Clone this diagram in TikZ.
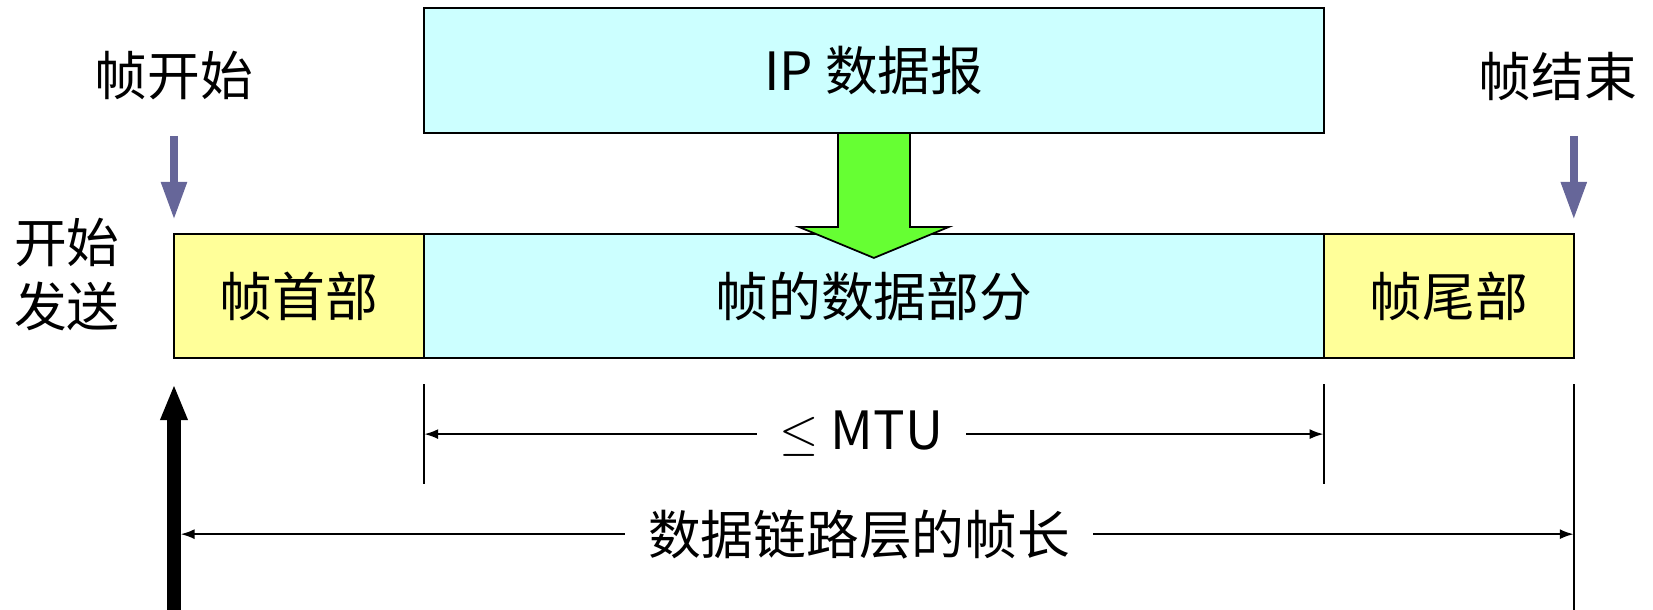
\documentclass[tikz,border=0pt]{standalone}
\usepackage{fontspec}
\setmainfont{Noto Sans CJK SC}
\usepackage{tikz}
\usetikzlibrary{positioning,calc,arrows.meta}
\definecolor{hdryellow}{HTML}{FFFF99}
\definecolor{datacyan}{HTML}{CCFFFF}
\definecolor{pushgreen}{HTML}{66FF33}
\definecolor{flagblue}{HTML}{666699}
\tikzset{
    field/.style={draw, line width=0.6pt, minimum height=1.24cm, inner sep=0pt, outer sep=0pt},
    hdrfield/.style={field, fill=hdryellow, minimum width=2.5cm},
    datafield/.style={field, fill=datacyan, minimum width=8.99cm},
    flagarrow/.style={draw=flagblue, line width=2.3pt, -{Triangle[width=0.24cm, length=0.38cm]}, flagblue},
    sendarrow/.style={line width=3.7pt, -{Triangle[width=0.25cm, length=0.36cm]}},
    tick/.style={line width=0.6pt},
    dimline/.style={line width=0.6pt, {Latex[length=0.14cm, width=0.1cm]}-{Latex[length=0.14cm, width=0.1cm]}},
    gaplabel/.style={fill=white, inner xsep=6.5pt, inner ysep=0pt}
}
\begin{document}
\begin{tikzpicture}[x=0.01cm, y=-0.01cm, font=\fontsize{15}{18.2}\selectfont]
    \useasboundingbox (0,0) rectangle (1653,610);
    % frame fields
    \node[hdrfield, anchor=north west] (header) at (174,234) {帧首部};
    \node[datafield, right=0pt of header] (data) {帧的数据部分};
    \node[hdrfield, right=0pt of data] (tail) {帧尾部};
    \node[datafield, minimum height=1.25cm, above=1.01cm of data] (ip) {IP 数据报};
    % encapsulation arrow
    \filldraw[fill=pushgreen, line width=0.5pt] (ip.south) ++(-36,0) -- ++(0,94) -- ++(-39,0)
        -- ++(75,31) -- ++(75,-31) -- ++(-39,0) -- ++(0,-94) -- cycle;
    % labels
    \node (startlbl) at (174,76) {帧开始};
    \node (endlbl) at (1558,76) {帧结束};
    \node[align=center] (sendlbl) at (67,275) {开始\\发送};
    \draw[flagarrow] ([yshift=-0.23cm]header.north west |- startlbl.south) -- ([yshift=0.14cm]header.north west);
    \draw[flagarrow] ([yshift=-0.23cm]tail.north east |- endlbl.south) -- ([yshift=0.14cm]tail.north east);
    \draw[sendarrow] ([yshift=-2.52cm]header.south west) -- ([yshift=-0.26cm]header.south west);
    % lengths
    \draw[tick] ([yshift=-0.26cm]data.south west) -- ([yshift=-1.26cm]data.south west);
    \draw[tick] ([yshift=-0.26cm]data.south east) -- ([yshift=-1.26cm]data.south east);
    \draw[tick] ([yshift=-0.26cm]tail.south east) -- ([yshift=-2.52cm]tail.south east);
    \draw[dimline] ([yshift=-0.76cm]data.south west) -- node[gaplabel, pos=0.486] {$\leq$ MTU} ([yshift=-0.76cm]data.south east);
    \draw[dimline] ([xshift=0.065cm, yshift=-1.76cm]header.south west) -- node[gaplabel, pos=0.487] {数据链路层的帧长} ([yshift=-1.76cm]tail.south east);
\end{tikzpicture}
\end{document}
